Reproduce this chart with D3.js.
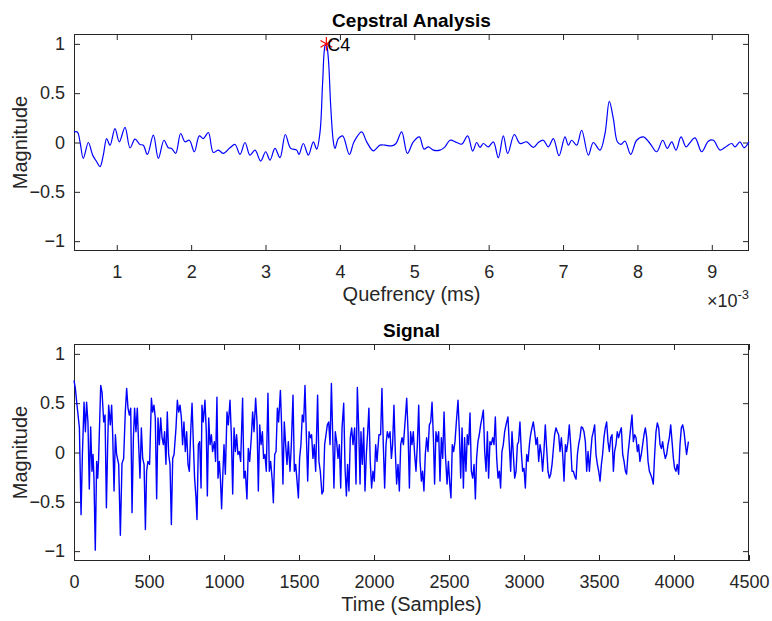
<!DOCTYPE html>
<html>
<head>
<meta charset="utf-8">
<script src="https://cdn.jsdelivr.net/npm/d3@7"></script>
<style>
  body { margin: 0; background: #fff; }
  text { font-family: "Liberation Sans", Arial, sans-serif; }
</style>
</head>
<body>
<div id="chart"></div>
<script>
// quefrency axis is in units of 1e-3 (shown as "x10^-3")
const quefrency = [0.425,0.470,0.506,0.550,0.618,0.676,0.730,0.775,0.819,0.864,0.909,0.976,1.034,1.111,1.178,1.245,1.312,1.357,1.411,1.492,
  1.559,1.635,1.693,1.738,1.792,1.859,1.917,1.976,2.043,2.110,2.164,2.231,2.298,2.366,2.433,2.522,2.590,2.657,2.724,2.791,
  2.859,2.935,3.002,3.060,3.127,3.195,3.266,3.338,3.419,3.450,3.508,3.576,3.643,3.688,3.733,3.768,3.800,3.818,3.845,3.876,
  3.912,3.934,3.979,4.037,4.127,4.190,4.293,4.360,4.450,4.539,
  4.606,4.696,4.754,4.830,4.907,4.987,5.068,5.131,5.189,5.256,5.346,5.413,5.480,5.570,5.637,5.718,5.785,5.839,5.884,5.928,
  5.996,6.063,6.130,6.197,6.256,6.345,6.421,6.511,6.601,6.668,6.735,6.802,6.870,6.946,7.026,7.071,7.116,7.183,7.250,7.340,
  7.407,7.497,7.564,7.622,7.676,7.730,7.775,7.833,7.909,7.990,8.080,8.169,8.259,8.340,8.402,8.461,8.519,8.586,8.653,8.698,
  8.774,8.864,8.953,9.021,9.110,9.200,9.267,9.312,9.379,9.433,9.500];
const cepstrum = [0.107,0.107,0.007,-0.161,0.0,-0.128,-0.195,-0.245,-0.128,0.040,-0.027,0.141,0.007,0.154,-0.054,0.034,-0.020,-0.027,-0.121,0.074,
  -0.161,0.023,-0.054,-0.060,-0.111,0.091,0.007,0.023,-0.094,0.067,0.040,0.101,-0.101,-0.077,-0.111,-0.054,-0.020,-0.121,0.0,-0.128,
  -0.077,-0.188,-0.094,-0.178,-0.060,-0.154,0.081,-0.060,-0.077,-0.121,-0.010,-0.128,0.007,-0.067,0.107,0.611,0.980,1.0,0.846,0.376,
  0.007,-0.060,0.040,0.067,-0.121,0.007,0.107,0.007,-0.084,-0.027,
  -0.027,-0.034,-0.010,0.107,-0.111,0.007,0.057,-0.067,-0.044,-0.077,-0.077,-0.044,0.023,0,-0.017,0.067,-0.087,0,-0.050,-0.010,
  -0.044,0.007,-0.154,0.067,-0.111,0.081,-0.010,0.007,-0.050,0,0.023,-0.044,0.040,-0.134,0.057,-0.027,0.023,-0.027,0.124,-0.128,
  0,-0.077,0.091,0.416,0.242,0.007,-0.020,0.013,-0.121,0.023,0.057,-0.010,-0.094,0.023,-0.060,0.007,-0.077,0.057,-0.044,-0.010,
  0.047,-0.094,0.013,0.023,-0.077,-0.037,-0.010,-0.044,0.007,-0.054,0.007];
const peakQ = 3.818, peakVal = 1.0, peakLabel = 'C4';

const sampleIdx = [0,9,18,27,36,47,56,67,76,84,93,102,111,120,127,133,142,151,158,164,
  178,187,198,207,216,224,231,242,251,258,267,276,284,298,309,320,331,342,351,360,
  369,378,387,396,404,413,422,431,440,449,458,467,476,484,493,504,516,524,533,542,
  551,560,569,578,587,596,604,613,622,631,640,649,658,667,680,689,698,707,716,724,
  733,742,751,760,769,778,787,796,804,813,
  820,829,838,847,853,862,873,882,889,898,907,916,924,936,944,953,960,969,976,984,
  993,1000,1009,1020,1029,1040,1049,1058,1067,1076,1084,1093,1102,1111,1124,1133,1142,1153,1162,1171,
  1182,1191,1200,1211,1220,1229,1238,1247,1256,1264,1273,1282,1293,1302,1311,1322,1329,1338,1347,1356,
  1364,1376,1384,1393,1402,1411,1420,1429,1440,1449,1460,1469,1478,1487,1496,1504,1513,1522,1531,1540,
  1549,1558,1567,1576,1584,1593,1602,1611,1624,1633,1642,1653,
  1662,1671,1680,1689,1698,1707,1716,1724,1733,1742,1751,1760,1769,1778,1787,1798,1807,1816,1824,1833,
  1842,1851,1860,1871,1880,1889,1898,1907,1913,1922,1931,1940,1949,1958,1966,1975,1984,1993,2002,2011,
  2020,2033,2044,2053,2062,2071,2080,2089,2098,2107,2116,2124,2133,2142,2151,2160,2169,2178,2187,2196,
  2209,2218,2227,2236,2244,2253,2262,2271,2280,2289,2298,2307,2316,2324,2333,2342,2351,2360,2369,2378,
  2387,2396,2404,2413,2422,2431,2440,2449,2458,2467,2476,2487,
  2496,2505,2513,2522,2531,2540,2549,2560,2569,2578,2587,2596,2604,2613,2622,2631,2640,2649,2658,2667,
  2676,2684,2693,2702,2711,2720,2729,2738,2747,2756,2764,2773,2782,2791,2800,2809,2818,2827,2836,2844,
  2853,2862,2871,2880,2893,2902,2911,2920,2929,2938,2947,2956,2964,2973,2982,2991,3000,3009,3018,3027,
  3036,3044,3053,3062,3071,3080,3089,3098,3107,3116,3124,3133,3142,3151,3160,3169,3178,3187,3196,3204,
  3213,3222,3231,3240,3249,3258,3267,3276,3284,3293,3302,3311,3320,
  3329,3338,3347,3356,3364,3373,3382,3391,3400,3409,3418,3427,3436,3444,3453,3462,3471,3480,3489,3498,
  3507,3516,3524,3533,3542,3551,3560,3569,3578,3587,3596,3604,3613,3622,3631,3640,3649,3658,3667,3676,
  3684,3693,3702,3711,3720,3729,3738,3747,3756,3764,3773,3782,3791,3800,3809,3818,3827,3836,3844,3853,
  3862,3871,3880,3889,3898,3907,3916,3924,3933,3942,3951,3960,3969,3978,3987,3996,4004,4013,4022,4031,
  4040,4049,4058,4067,4076,4084,4096];
const signal = [0.73,0.65,0.51,0.38,0.25,-0.63,-0.02,0.51,0.21,0.51,0.31,-0.37,0.26,-0.19,-0.02,-0.26,-0.99,-0.09,-0.26,-0.07,
  0.68,0.61,0.31,0.38,-0.56,0.04,0.48,0.28,0.48,0.18,-0.39,0.18,-0.02,-0.12,-0.84,-0.11,-0.06,0.41,0.65,0.45,
  0.38,0.45,-0.61,0.15,0.45,0.21,0.45,0.08,-0.26,0.25,-0.06,-0.12,-0.78,-0.19,-0.09,-0.12,0.55,0.41,0.48,0.35,
  -0.47,0.35,0.08,0.35,0.15,0.08,0.21,-0.12,0.41,-0.02,-0.12,-0.73,-0.06,-0.02,0.25,0.53,0.41,0.48,0.35,0.08,
  0.31,0.01,0.21,-0.12,-0.19,0.21,0.50,0.08,-0.26,-0.45,
  -0.68,0.08,0.11,-0.36,0.48,0.31,0.53,0.21,-0.44,0.35,0.08,0.18,0.01,0.11,-0.09,0.56,-0.26,-0.09,-0.26,-0.57,
  -0.19,0.08,-0.22,0.41,0.28,0.53,0.18,-0.42,0.25,0.01,0.18,-0.02,0.01,-0.09,0.55,-0.26,-0.19,-0.47,0.04,-0.09,
  0.15,0.41,0.21,0.55,0.31,-0.39,0.28,0.08,0.21,-0.06,-0.02,-0.19,0.60,-0.19,-0.09,-0.29,-0.51,-0.02,0.01,0.45,
  0.31,0.63,0.28,-0.32,0.31,0.08,-0.12,0.11,-0.19,0.08,0.58,-0.19,-0.12,-0.29,-0.46,-0.06,0.08,0.38,0.31,0.68,
  0.18,-0.29,0.21,0.15,0.18,-0.06,0.08,-0.19,0.58,-0.09,-0.19,-0.42,
  -0.39,0.08,0.18,0.28,0.31,0.08,0.70,0.21,-0.36,0.21,0.11,-0.06,0.08,-0.36,0.25,0.50,-0.16,-0.44,-0.12,-0.39,
  0.15,0.25,0.08,0.25,-0.32,0.66,0.25,-0.32,0.21,-0.12,0.25,-0.39,-0.02,0.21,0.45,-0.09,-0.36,-0.19,-0.29,0.08,
  -0.09,0.18,0.18,0.65,0.08,-0.36,0.08,0.21,0.15,0.21,-0.06,0.08,0.48,0.01,-0.32,-0.12,-0.39,0.08,0.15,0.08,
  0.35,0.55,0.21,-0.36,0.21,0.08,0.21,-0.02,-0.19,0.08,0.48,-0.09,-0.29,-0.19,-0.39,-0.02,0.15,0.01,0.28,0.31,
  0.51,0.15,-0.32,0.21,0.11,0.21,-0.29,0.15,-0.06,0.41,-0.02,-0.32,
  -0.09,-0.32,-0.46,0.08,0.01,0.11,0.31,0.53,0.21,-0.26,0.25,-0.36,0.15,-0.19,0.18,0.08,0.40,-0.19,-0.26,-0.12,
  -0.47,-0.06,0.11,0.18,0.28,0.35,0.43,0.01,-0.19,0.21,-0.26,0.11,0.08,0.15,0.08,0.36,-0.06,-0.26,-0.19,-0.36,
  0.01,0.08,0.21,0.28,0.36,0.08,-0.19,0.21,-0.02,-0.26,-0.19,0.08,0.11,0.31,0.01,-0.19,-0.16,-0.36,-0.02,-0.09,
  0.08,0.18,0.25,0.31,0.21,0.08,0.15,-0.09,0.08,-0.02,-0.19,0.01,0.28,0.04,-0.19,-0.26,-0.22,-0.12,0.04,0.18,
  0.25,0.21,0.18,0.01,0.15,-0.02,-0.29,0.08,0.01,0.11,0.28,0.08,-0.19,
  -0.19,-0.24,-0.27,-0.02,0.08,0.15,0.26,0.25,0.21,0.11,-0.19,0.01,-0.19,-0.02,0.15,0.21,0.28,-0.02,-0.12,-0.19,
  -0.29,-0.12,-0.02,0.15,0.25,0.31,0.11,0.01,0.15,0.18,-0.19,0.01,0.08,0.21,0.15,0.21,0.25,-0.02,-0.09,-0.19,
  -0.22,-0.02,0.11,0.25,0.38,0.11,0.18,0.15,0.01,0.08,-0.09,-0.02,0.08,0.18,0.25,0.15,-0.09,-0.19,-0.22,-0.26,
  -0.32,-0.02,0.21,0.30,0.25,0.08,0.04,0.11,0.01,-0.06,-0.02,0.08,0.15,0.28,0.11,-0.06,-0.16,-0.19,-0.12,-0.22,
  0.08,0.25,0.28,0.21,0.08,-0.02,0.11];

const magTicks = [-1, -0.5, 0, 0.5, 1];
const quefTicks = [1, 2, 3, 4, 5, 6, 7, 8, 9];
const sampleTicks = [0, 500, 1000, 1500, 2000, 2500, 3000, 3500, 4000, 4500];

const width = 772, height = 621;
const left = 74, right = 749;
const axisColor = '#262626';

const svg = d3.select('#chart').append('svg')
  .attr('width', width)
  .attr('height', height);

function drawPanel(top, bottom, xDomain, xTicks, title, xLabel) {
  const x = d3.scaleLinear().domain(xDomain).range([left, right]);
  const y = d3.scaleLinear().domain([-1.1, 1.1]).range([bottom, top]);
  const g = svg.append('g');

  g.append('rect')
    .attr('x', left).attr('y', top)
    .attr('width', right - left).attr('height', bottom - top)
    .attr('fill', '#fff');

  const fmt = d3.format('');
  const styleAxis = (sel) => {
    sel.select('.domain').remove();
    sel.selectAll('line').attr('stroke', axisColor);
    sel.selectAll('text')
      .attr('fill', axisColor)
      .style('font-size', '18px');
  };

  g.append('g').attr('transform', `translate(0,${bottom})`)
    .call(d3.axisBottom(x).tickValues(xTicks).tickFormat(fmt).tickSize(-6).tickPadding(14))
    .call(styleAxis);
  g.append('g').attr('transform', `translate(0,${top})`)
    .call(d3.axisTop(x).tickValues(xTicks).tickFormat('').tickSize(-6))
    .call(styleAxis);
  g.append('g').attr('transform', `translate(${left},0)`)
    .call(d3.axisLeft(y).tickValues(magTicks).tickFormat(fmt).tickSize(-6).tickPadding(9))
    .call(styleAxis);
  g.append('g').attr('transform', `translate(${right},0)`)
    .call(d3.axisRight(y).tickValues(magTicks).tickFormat('').tickSize(-6))
    .call(styleAxis);

  g.append('rect')
    .attr('x', left + 0.5).attr('y', top + 0.5)
    .attr('width', right - left - 1).attr('height', bottom - top - 1)
    .attr('fill', 'none')
    .attr('stroke', axisColor)
    .attr('stroke-width', 1);

  g.append('text')
    .attr('x', (left + right) / 2).attr('y', top - 7)
    .attr('text-anchor', 'middle')
    .style('font-size', '19px').style('font-weight', 'bold')
    .attr('fill', '#000')
    .text(title);

  g.append('text')
    .attr('x', (left + right) / 2).attr('y', bottom + 50)
    .attr('text-anchor', 'middle')
    .style('font-size', '20px')
    .attr('fill', axisColor)
    .text(xLabel);

  g.append('text')
    .attr('transform', `translate(27,${(top + bottom) / 2}) rotate(-90)`)
    .attr('text-anchor', 'middle')
    .style('font-size', '20px')
    .attr('fill', axisColor)
    .text('Magnitude');

  return { x, y, g };
}

// cepstrum panel
const p1 = drawPanel(34, 251, [0.425, 9.5], quefTicks, 'Cepstral Analysis', 'Quefrency (ms)');
const cepLine = d3.line()
  .x((d, i) => p1.x(quefrency[i]))
  .y((d) => p1.y(d))
  .curve(d3.curveCatmullRom);
p1.g.append('path')
  .datum(cepstrum)
  .attr('d', cepLine)
  .attr('fill', 'none')
  .attr('stroke', '#0000ff')
  .attr('stroke-width', 1.2);

p1.g.append('path')
  .attr('d', d3.symbol(d3.symbolAsterisk, 130)())
  .attr('transform', `translate(${p1.x(peakQ)},${p1.y(peakVal)})`)
  .attr('fill', 'none')
  .attr('stroke', '#ff0000')
  .attr('stroke-width', 1.2);
p1.g.append('text')
  .attr('x', p1.x(peakQ) + 1).attr('y', p1.y(peakVal) + 7)
  .style('font-size', '18px')
  .attr('fill', '#000')
  .text(peakLabel);

const expo = p1.g.append('text')
  .attr('x', right).attr('y', 307)
  .attr('text-anchor', 'end')
  .style('font-size', '18px')
  .attr('fill', axisColor);
expo.append('tspan').text('\u00d710');
expo.append('tspan').attr('dy', -8).style('font-size', '13px').text('-3');

// signal panel
const p2 = drawPanel(344, 561, [0, 4500], sampleTicks, 'Signal', 'Time (Samples)');
const sigLine = d3.line()
  .x((d, i) => p2.x(sampleIdx[i]))
  .y((d) => p2.y(d));
p2.g.append('path')
  .datum(signal)
  .attr('d', sigLine)
  .attr('fill', 'none')
  .attr('stroke', '#0000ff')
  .attr('stroke-width', 1.4)
  .attr('stroke-linejoin', 'round');
</script>
</body>
</html>
